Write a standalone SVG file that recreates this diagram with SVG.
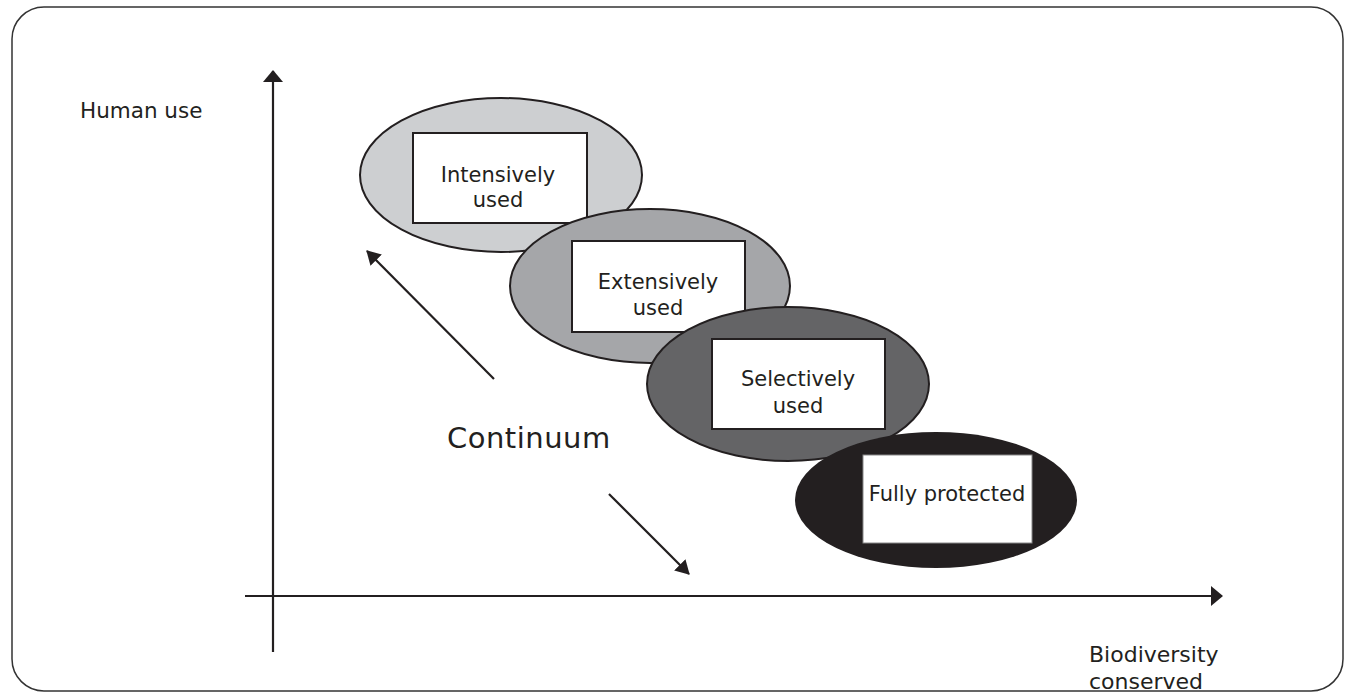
<svg xmlns="http://www.w3.org/2000/svg" width="1354" height="694" viewBox="0 0 1354 694">
<defs>
<style>
.lbl{font-family:"DejaVu Sans","Liberation Sans",Arial,sans-serif;fill:#231f20}
.box{fill:#fff;stroke:#231f20;stroke-width:2}
.ell{stroke:#231f20;stroke-width:2}
.ln{stroke:#231f20;stroke-width:2.2;fill:none}
</style>
<marker id="ah" viewBox="0 0 12 20" refX="11" refY="10" markerWidth="12" markerHeight="20" markerUnits="userSpaceOnUse" orient="auto">
<path d="M0,0 L12,10 L0,20 Z" fill="#231f20"/>
</marker>
<marker id="ahs" viewBox="0 0 14 16" refX="13" refY="8" markerWidth="14" markerHeight="16" markerUnits="userSpaceOnUse" orient="auto">
<path d="M0,0 L14,8 L0,16 Z" fill="#231f20"/>
</marker>
</defs>
<rect x="12" y="7" width="1331" height="684" rx="32" fill="#fff" stroke="#333" stroke-width="1.5"/>
<g id="connectors">
<line class="ln" x1="273" y1="652" x2="273" y2="71" marker-end="url(#ah)"/>
<line class="ln" x1="245" y1="596" x2="1222" y2="596" marker-end="url(#ah)"/>
<line class="ln" x1="494" y1="379" x2="367" y2="251" marker-end="url(#ahs)"/>
<line class="ln" x1="609" y1="494" x2="689" y2="574" marker-end="url(#ahs)"/>
</g>
<g id="axis-y-label"><text class="lbl" x="80" y="118" font-size="21.5">Human use</text></g>
<g id="axis-x-label">
<text class="lbl" x="1089" y="662" font-size="22">Biodiversity</text>
<text class="lbl" x="1089" y="689" font-size="22">conserved</text>
</g>
<g id="continuum"><text class="lbl" x="447" y="448" font-size="29" letter-spacing="0.5">Continuum</text></g>
<g id="intensively">
<ellipse class="ell" cx="501" cy="175" rx="141" ry="77" fill="#cdcfd1"/>
<rect class="box" x="413" y="133" width="174" height="90"/>
<text class="lbl" x="498" y="182" font-size="21" text-anchor="middle">Intensively</text>
<text class="lbl" x="498" y="207" font-size="21" text-anchor="middle">used</text>
</g>
<g id="extensively">
<ellipse class="ell" cx="650" cy="286" rx="140" ry="77" fill="#a5a6a9"/>
<rect class="box" x="572" y="241" width="173" height="91"/>
<text class="lbl" x="658" y="289" font-size="21" text-anchor="middle">Extensively</text>
<text class="lbl" x="658" y="315" font-size="21" text-anchor="middle">used</text>
</g>
<g id="selectively">
<ellipse class="ell" cx="788" cy="384" rx="141" ry="77" fill="#646466"/>
<rect class="box" x="712" y="339" width="173" height="90"/>
<text class="lbl" x="798" y="386" font-size="21" text-anchor="middle">Selectively</text>
<text class="lbl" x="798" y="413" font-size="21" text-anchor="middle">used</text>
</g>
<g id="fully-protected">
<ellipse cx="936" cy="500" rx="141" ry="68" fill="#231f20"/>
<rect x="863" y="455" width="169" height="88" fill="#fff" stroke="#888" stroke-width="1"/>
<text class="lbl" x="947" y="501" font-size="21" text-anchor="middle">Fully protected</text>
</g>
</svg>
